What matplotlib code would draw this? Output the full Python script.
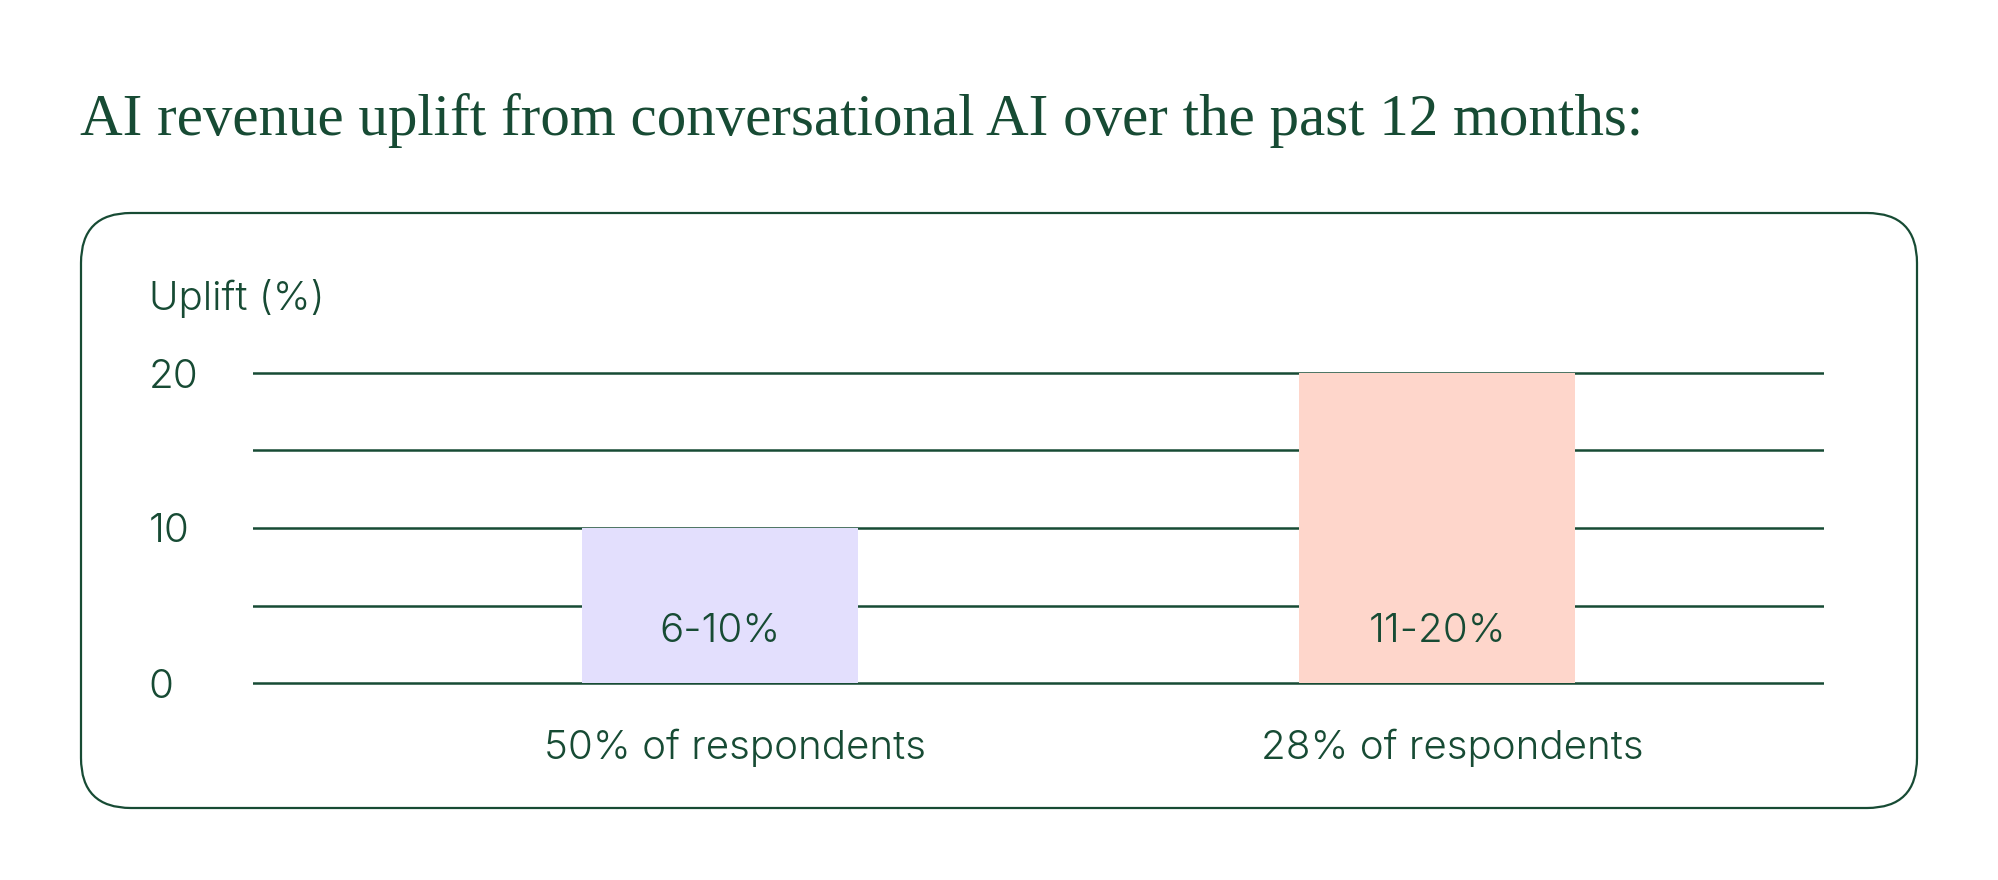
import matplotlib
matplotlib.use("Agg")
import matplotlib.pyplot as plt
from matplotlib.patches import FancyBboxPatch
from matplotlib.transforms import ScaledTranslation

# data
categories = ["50% of respondents", "28% of respondents"]
uplift = [10, 20]
ranges = ["6-10%", "11-20%"]
bar_colors = ["#e3dffd", "#fed6cb"]
y_ticks = [0, 5, 10, 15, 20]
y_ticklabels = ["0", "", "10", "", "20"]

green = "#174b34"
sans = ["Inter", "DejaVu Sans"]
fs = 29

fig = plt.figure(figsize=(19.99, 8.8), dpi=100)
fig.patch.set_facecolor("white")

# rounded frame around the chart
frame = FancyBboxPatch((0.81, 0.72), 18.36, 5.95,
                       boxstyle="round,pad=0,rounding_size=0.5",
                       transform=fig.dpi_scale_trans,
                       facecolor="none", edgecolor=green, linewidth=1.6)
fig.add_artist(frame)

fig.text(80 / 1999, 1 - 135 / 880,
         "AI revenue uplift from conversational AI over the past 12 months:",
         family=["Liberation Serif"], fontsize=42.5, color=green, va="baseline", ha="left")

fig.text(149 / 1999, 1 - 310 / 880, "Uplift (%)", family=sans, fontsize=fs,
         fontweight=300, color=green, va="baseline", ha="left")

ax = fig.add_axes([253 / 1999, 1 - 698.5 / 880, (1824 - 253) / 1999, 341 / 880])
x = list(range(len(categories)))
ax.bar(x, uplift, width=0.385, color=bar_colors, zorder=3)
for xi, lab in zip(x, ranges):
    ax.text(xi, 3.3, lab, ha="center", va="center", family=sans, fontsize=fs,
            fontweight=300, color=green, zorder=4)

ax.set_xlim(-0.651, 1.539)
ax.set_ylim(-1, 21)
ax.set_yticks(y_ticks)
ax.set_yticklabels(y_ticklabels, family=sans, fontsize=fs, fontweight=300,
                   color=green, ha="left")
ax.set_xticks(x)
ax.set_xticklabels(categories, family=sans, fontsize=fs, fontweight=300, color=green)
ax.tick_params(axis="y", length=0, pad=75)
ax.tick_params(axis="x", length=0, pad=22)
shift = ScaledTranslation(0.15, 0, fig.dpi_scale_trans)
for lab in ax.get_xticklabels():
    lab.set_transform(lab.get_transform() + shift)
ax.yaxis.grid(True, color=green, linewidth=1.8, zorder=0)
ax.set_axisbelow(True)
for s in ax.spines.values():
    s.set_visible(False)
ax.set_facecolor("none")

fig.savefig("out.png", dpi=100)
